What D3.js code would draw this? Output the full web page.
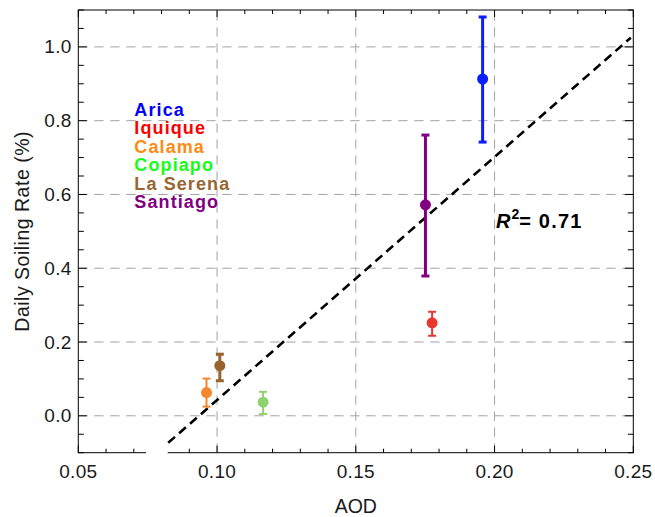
<!DOCTYPE html>
<html>
<head>
<meta charset="utf-8">
<script src="https://cdn.jsdelivr.net/npm/d3@7"></script>
<style>
  html, body { margin: 0; padding: 0; background: #fff; }
  svg { display: block; font-family: "Liberation Sans", Arial, Helvetica, sans-serif; }
</style>
</head>
<body>
<svg id="chart" width="655" height="517"></svg>
<script>
// ---- data ----
const sites     = ["Arica", "Iquique", "Calama", "Copiapo", "La Serena", "Santiago"];
const aod       = [0.1957, 0.1775, 0.0962, 0.1166, 0.1010, 0.1751];
const soiling   = [0.913, 0.252, 0.063, 0.037, 0.136, 0.572];
const errLow    = [0.742, 0.217, 0.025, 0.005, 0.095, 0.379];
const errHigh   = [1.081, 0.282, 0.101, 0.065, 0.167, 0.761];
const fitAOD     = [0.0824, 0.2491];
const fitSoiling = [-0.0732, 1.025];
const r2Label   = "0.71";
const xTicks    = [0.05, 0.10, 0.15, 0.20, 0.25];
const yTicks    = [0.0, 0.2, 0.4, 0.6, 0.8, 1.0];

// ---- styles ----
const legendColor = {"Arica":"#0000ff","Iquique":"#ff0000","Calama":"#ff8a14","Copiapo":"#14ff14","La Serena":"#996633","Santiago":"#800080"};
const pointColor  = {"Arica":"#0a1eff","Iquique":"#e8382c","Calama":"#f4862e","Copiapo":"#8fd16c","La Serena":"#99632f","Santiago":"#800080"};
const barWidth    = {"Arica":3,"Iquique":2,"Calama":2,"Copiapo":2,"La Serena":3,"Santiago":3};

const W = 655, H = 517;
const L = 78.3, R = 633.3, T = 10, B = 452.7;
const x = d3.scaleLinear().domain([0.05, 0.25]).range([L, R]);
const y = d3.scaleLinear().domain([-0.1, 1.1]).range([B, T]);

const svg = d3.select("#chart");

// grid
const grid = svg.append("g").attr("stroke", "#a3a3a3").attr("stroke-width", 1).attr("stroke-dasharray", "9.3,6.7");
grid.selectAll("line.h").data(yTicks).join("line")
  .attr("x1", L).attr("x2", R).attr("y1", d => y(d)).attr("y2", d => y(d));
grid.selectAll("line.v").data(xTicks.filter(d => d > 0.06 && d < 0.24)).join("line")
  .attr("x1", d => x(d)).attr("x2", d => x(d)).attr("y1", B).attr("y2", T);

// fit line
svg.append("line")
  .attr("x1", x(fitAOD[0])).attr("y1", y(fitSoiling[0]))
  .attr("x2", x(fitAOD[1])).attr("y2", y(fitSoiling[1]))
  .attr("stroke", "#000").attr("stroke-width", 2.6).attr("stroke-dasharray", "9,5.5");

// frame + ticks
const axG = svg.append("g").attr("stroke", "#000").attr("stroke-width", 1);
axG.append("rect").attr("x", L).attr("y", T).attr("width", R - L).attr("height", B - T).attr("fill", "none");

const xMinor = d3.range(0.05, 0.2501, 0.01);
const yMinor = d3.range(-0.1, 1.1001, 0.05);
const isMajorX = v => Math.abs(v * 20 - Math.round(v * 20)) < 1e-6;
const isMajorY = v => Math.abs(v * 5 - Math.round(v * 5)) < 1e-6;
xMinor.forEach(v => {
  const len = isMajorX(v) ? 7 : 4;
  axG.append("line").attr("x1", x(v)).attr("x2", x(v)).attr("y1", B).attr("y2", B - len);
  axG.append("line").attr("x1", x(v)).attr("x2", x(v)).attr("y1", T).attr("y2", T + len);
});
yMinor.forEach(v => {
  const len = isMajorY(v) ? 8.5 : 5.5;
  axG.append("line").attr("x1", L).attr("x2", L + len).attr("y1", y(v)).attr("y2", y(v));
  axG.append("line").attr("x1", R).attr("x2", R - len).attr("y1", y(v)).attr("y2", y(v));
});
// gap in the bottom frame
svg.append("rect").attr("x", 146).attr("y", B - 8).attr("width", 21.7).attr("height", 12).attr("fill", "#fff");

// tick labels
svg.append("g").selectAll("text").data(xTicks).join("text")
  .attr("x", d => x(d)).attr("y", B + 25)
  .attr("text-anchor", "middle").attr("font-size", 19).attr("letter-spacing", 0.3)
  .attr("fill", "#1a1a1a").text(d => d3.format(".2f")(d));
svg.append("g").selectAll("text").data(yTicks).join("text")
  .attr("x", L - 6.6).attr("y", d => y(d) + 6.6)
  .attr("text-anchor", "end").attr("font-size", 19).attr("letter-spacing", 0.3)
  .attr("fill", "#1a1a1a").text(d => d3.format(".1f")(d));

// axis titles
svg.append("text").attr("x", (L + R) / 2).attr("y", 512.5).attr("text-anchor", "middle")
  .attr("font-size", 19.5).attr("fill", "#1a1a1a").text("AOD");
svg.append("text").attr("transform", `translate(28.5,${(T + B) / 2}) rotate(-90)`).attr("text-anchor", "middle")
  .attr("font-size", 19.5).attr("letter-spacing", 0.5).attr("fill", "#1a1a1a").text("Daily Soiling Rate (%)");

// error bars and points
const pts = sites.map((s, i) => ({ s, x: aod[i], y: soiling[i], lo: errLow[i], hi: errHigh[i] }));
const eb = svg.append("g");
pts.forEach(p => {
  const c = pointColor[p.s], w = barWidth[p.s];
  eb.append("line").attr("x1", x(p.x)).attr("x2", x(p.x)).attr("y1", y(p.lo)).attr("y2", y(p.hi))
    .attr("stroke", c).attr("stroke-width", w);
  [p.lo, p.hi].forEach(v => eb.append("line")
    .attr("x1", x(p.x) - 4).attr("x2", x(p.x) + 4).attr("y1", y(v)).attr("y2", y(v))
    .attr("stroke", c).attr("stroke-width", w));
});
svg.append("g").selectAll("circle").data(pts).join("circle")
  .attr("cx", d => x(d.x)).attr("cy", d => y(d.y)).attr("r", 5.5)
  .attr("fill", d => pointColor[d.s]);

// legend
svg.append("g").selectAll("text").data(sites).join("text")
  .attr("x", x(0.0702)).attr("y", (d, i) => y(0.813 - i * 0.0499))
  .attr("font-size", 18).attr("font-weight", "bold").attr("letter-spacing", 1.1)
  .attr("fill", d => legendColor[d]).text(d => d);

// R^2 annotation
const r2 = svg.append("text").attr("x", x(0.2005)).attr("y", y(0.510))
  .attr("font-size", 20).attr("font-weight", "bold").attr("fill", "#000");
r2.append("tspan").attr("font-style", "italic").text("R");
r2.append("tspan").attr("font-size", 14).attr("dy", -8.5).attr("dx", 1).text("2");
r2.append("tspan").attr("dy", 8.5).attr("letter-spacing", 1.2).text("= " + r2Label);
</script>
</body>
</html>
